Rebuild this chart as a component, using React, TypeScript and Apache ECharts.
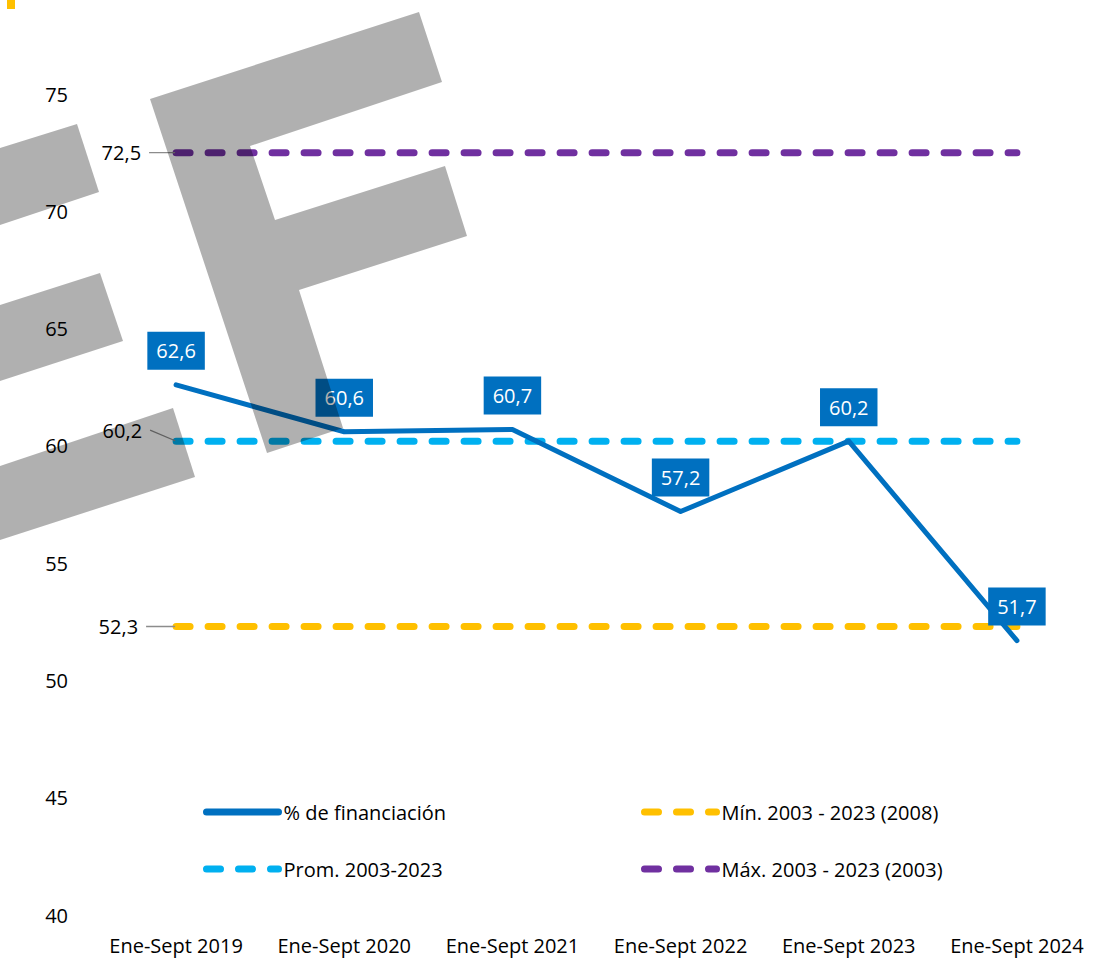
import React, { useEffect, useRef } from "react";
import * as echarts from "echarts";

const categories = [
  "Ene-Sept 2019",
  "Ene-Sept 2020",
  "Ene-Sept 2021",
  "Ene-Sept 2022",
  "Ene-Sept 2023",
  "Ene-Sept 2024",
];
const financiacion = [62.6, 60.6, 60.7, 57.2, 60.2, 51.7];
const minValue = 52.3;
const promValue = 60.2;
const maxValue = 72.5;
const seriesNames = [
  "% de financiación",
  "Mín. 2003 - 2023 (2008)",
  "Prom. 2003-2023",
  "Máx. 2003 - 2023 (2003)",
];
const yTicks = { min: 40, max: 75, interval: 5 };

const FONT = "'Open Sans', 'Noto Sans', sans-serif";
const fmt = (v: number) => String(v).replace(".", ",");

function refLine(name: string, value: number, color: string, dy: number, dx: number) {
  return {
    name,
    type: "line",
    z: 2,
    symbol: "circle",
    symbolSize: 2,
    showSymbol: true,
    itemStyle: { color: "transparent" },
    lineStyle: { color, width: 7, type: [14, 18], cap: "round" },
    label: { show: false },
    labelLine: {
      show: true,
      lineStyle: { color: "#8c8c8c", width: 1.3 },
    },
    labelLayout: { dy, dx },
    data: categories.map((_, i) =>
      i === 0
        ? {
            value: value,
            label: {
              show: true,
              position: "left",
              distance: 25,
              padding: [0, 8, 0, 0],
              backgroundColor: "rgba(255,255,255,0)",
              color: "#000",
              fontFamily: FONT,
              fontSize: 20,
              formatter: () => fmt(value),
            },
          }
        : value
    ),
  };
}

function buildPolygons() {
  const fill = "rgba(0,0,0,0.31)";
  const shapes = [
    [[150, 99], [419, 12], [442, 82], [250, 146], [275, 220], [445, 166], [467, 236], [299, 290], [343, 428], [267, 453]],
    [[0, 148], [77, 124], [99, 192], [0, 225]],
    [[0, 305], [100, 273], [123, 341], [0, 381]],
    [[0, 466], [173, 408], [195, 477], [0, 540]],
  ];
  const els: any[] = shapes.map((pts) => ({
    type: "polygon",
    z: 100,
    silent: true,
    shape: { points: pts },
    style: { fill },
  }));
  els.push({
    type: "rect",
    z: 100,
    silent: true,
    shape: { x: 7, y: 0, width: 8, height: 9 },
    style: { fill: "#FFC000" },
  });
  return els;
}

export default function App() {
  const ref = useRef<HTMLDivElement>(null);
  useEffect(() => {
    if (!ref.current) return;
    const chart = echarts.init(ref.current, null, { renderer: "svg" });
    const legendCommon = {
      orient: "vertical",
      top: 802,
      padding: 0,
      itemWidth: 72,
      itemHeight: 14,
      itemGap: 37,
      itemStyle: { opacity: 0 },
      lineStyle: { width: 7, cap: "round" },
      textStyle: { fontFamily: FONT, fontSize: 20, color: "#000", lineHeight: 20 },
      selectedMode: false,
    };
    chart.setOption({
      animation: false,
      backgroundColor: "#fff",
      textStyle: { fontFamily: FONT },
      grid: { left: 92, right: 11, top: 94, bottom: 45, containLabel: false },
      legend: [
        { ...legendCommon, left: 203, data: [seriesNames[0], seriesNames[2]] },
        { ...legendCommon, left: 641, data: [seriesNames[1], seriesNames[3]] },
      ],
      xAxis: {
        type: "category",
        data: categories,
        boundaryGap: true,
        axisLine: { show: false },
        axisTick: { show: false },
        axisLabel: { color: "#000", fontSize: 20, fontFamily: FONT, margin: 20, lineHeight: 20, interval: 0 },
      },
      yAxis: {
        type: "value",
        min: yTicks.min,
        max: yTicks.max,
        interval: yTicks.interval,
        splitLine: { show: false },
        axisLine: { show: false },
        axisTick: { show: false },
        axisLabel: { color: "#000", fontSize: 20, fontFamily: FONT, margin: 24 },
      },
      series: [
        {
          name: seriesNames[0],
          type: "line",
          z: 3,
          symbol: "circle",
          symbolSize: 2,
          showSymbol: true,
          itemStyle: { color: "transparent" },
          lineStyle: { color: "#0070C0", width: 5, cap: "round", join: "round" },
          label: {
            show: true,
            position: "top",
            distance: 14,
            backgroundColor: "#0070C0",
            color: "#fff",
            fontFamily: FONT,
            fontSize: 20,
            lineHeight: 22,
            padding: [8, 9, 8, 9],
            formatter: (p: any) => fmt(p.value),
          },
          data: financiacion,
        },
        refLine(seriesNames[1], minValue, "#FFC000", 0.01, -4),
        refLine(seriesNames[2], promValue, "#00B0F0", -11, 0),
        refLine(seriesNames[3], maxValue, "#7030A0", 0.01, -1),
      ],
      graphic: buildPolygons(),
    });
    return () => chart.dispose();
  }, []);
  return (
    <div
      ref={ref}
      style={{ position: "absolute", left: 0, top: 0, width: 1112, height: 960 }}
    />
  );
}
